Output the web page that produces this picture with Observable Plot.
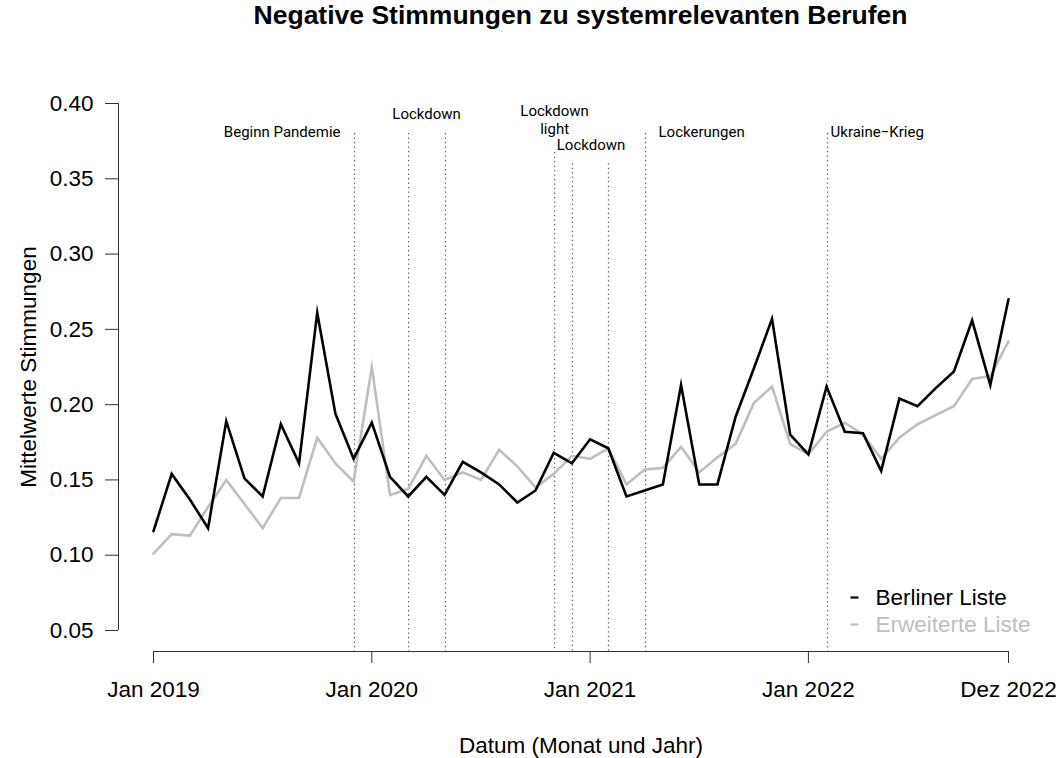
<!DOCTYPE html>
<html>
<head>
<meta charset="utf-8">
<script src="https://cdn.jsdelivr.net/npm/d3@7"></script>
<script src="https://cdn.jsdelivr.net/npm/@observablehq/plot@0.6"></script>
<style>
  body { margin: 0; background: #fff; }
  #title { height: 55px; line-height: 54px; box-sizing: border-box; padding-left: 153px; padding-right: 53px;
           text-align: center; font: bold 26.5px "Liberation Sans", Arial, sans-serif; color: #000; white-space: nowrap; }
  svg { display: block; }
</style>
</head>
<body>
<div id="title">Negative Stimmungen zu systemrelevanten Berufen</div>
<div id="chart"></div>
<script>
// Monthly means, Jan 2019 .. Dez 2022 (month index 0..47)
const berlinerListe = [
  0.116, 0.154, 0.137, 0.118, 0.189, 0.151, 0.139, 0.187, 0.161, 0.261, 0.194, 0.164,
  0.188, 0.152, 0.139, 0.152, 0.140, 0.162, 0.155, 0.147, 0.135, 0.143, 0.168, 0.161,
  0.177, 0.171, 0.139, 0.143, 0.147, 0.213, 0.147, 0.147, 0.192, 0.224, 0.257, 0.180,
  0.167, 0.212, 0.182, 0.181, 0.156, 0.204, 0.199, 0.211, 0.222, 0.256, 0.213, 0.270
];
const erweiterteListe = [
  0.101, 0.114, 0.113, 0.132, 0.150, 0.134, 0.118, 0.138, 0.138, 0.178, 0.161, 0.149,
  0.225, 0.140, 0.144, 0.166, 0.150, 0.155, 0.150, 0.170, 0.159, 0.145, 0.154, 0.166,
  0.164, 0.171, 0.147, 0.157, 0.158, 0.172, 0.155, 0.165, 0.174, 0.201, 0.212, 0.174,
  0.167, 0.182, 0.188, 0.180, 0.164, 0.178, 0.187, 0.193, 0.199, 0.217, 0.219, 0.242
];
const seriesNames = ["Berliner Liste", "Erweiterte Liste"];
const seriesColors = ["#000000", "#bebebe"];

const xTicks = [0, 12, 24, 36, 47];
const xTickLabels = ["Jan 2019", "Jan 2020", "Jan 2021", "Jan 2022", "Dez 2022"];
const yTicks = [0.05, 0.10, 0.15, 0.20, 0.25, 0.30, 0.35, 0.40];

// Event lines (month index) and the value where each dotted line starts
const eventMonths = [11.05, 14.02, 16.05, 22.05, 23.03, 25.01, 27.05, 37.05];
const eventTops   = [0.380, 0.380, 0.380, 0.3675, 0.360, 0.360, 0.380, 0.380];
const eventBottom = 0.036;

// Event labels
const eventLabels  = ["Beginn Pandemie", "Lockdown", "Lockdown\nlight", "Lockdown", "Lockerungen", "Ukraine\u2212Krieg"];
const eventLabelX  = [10.28, 15.01, 22.05, 24.05, 27.76, 37.22];
const eventLabelY  = [0.3814, 0.3934, 0.3894, 0.3728, 0.3814, 0.3814];
const eventAnchors = ["end", "middle", "middle", "middle", "start", "start"];

const rows = [];
berlinerListe.forEach((v, i) => rows.push({m: i, v, s: seriesNames[0]}));
erweiterteListe.forEach((v, i) => rows.push({m: i, v, s: seriesNames[1]}));
const events = eventMonths.map((m, i) => ({m, top: eventTops[i], bottom: eventBottom}));
const labels = eventLabels.map((t, i) => ({t, x: eventLabelX[i], y: eventLabelY[i], a: eventAnchors[i]}));

const dashSymbol = { draw(ctx) { ctx.moveTo(-4, 0); ctx.lineTo(4, 0); } };

const labelMarks = ["start", "middle", "end"].map(a =>
  Plot.text(labels.filter(d => d.a === a), { x: "x", y: "y", text: "t", textAnchor: a, fontSize: 15, lineHeight: 1.2,
    fontFamily: "Roboto, 'Liberation Sans', sans-serif", fill: "#000" })
);

const FS = 22.5;

const chart = Plot.plot({
  width: 1061,
  height: 703,
  marginLeft: 153,
  marginRight: 53,
  marginTop: 48,
  marginBottom: 128,
  style: { fontFamily: "'Liberation Sans', Arial, sans-serif", fontSize: FS + "px", color: "#000", background: "#fff", overflow: "visible" },
  x: { type: "linear", domain: [0, 47], axis: null },
  y: { type: "linear", domain: [0.05, 0.40], axis: null },
  color: { domain: seriesNames, range: seriesColors },
  marks: [
    // event lines
    Plot.ruleX(events, { x: "m", y1: "top", y2: "bottom", stroke: "#555", strokeWidth: 1.2, strokeDasharray: "1.2,3.3" }),
    // data lines
    Plot.line(rows.filter(d => d.s === seriesNames[1]), { x: "m", y: "v", stroke: seriesColors[1], strokeWidth: 2.6, strokeLinejoin: "miter", strokeMiterlimit: 10 }),
    Plot.line(rows.filter(d => d.s === seriesNames[0]), { x: "m", y: "v", stroke: seriesColors[0], strokeWidth: 2.6, strokeLinejoin: "miter", strokeMiterlimit: 10 }),
    // y axis
    Plot.ruleX([0], { y1: yTicks[0], y2: yTicks[yTicks.length - 1], dx: -35, stroke: "#333", strokeWidth: 1 }),
    Plot.axisY(yTicks, { anchor: "left", tickSize: 13, tickPadding: 12, dx: -35, fontSize: FS, stroke: "#333",
      tickFormat: d => d.toFixed(2) }),
    // x axis
    Plot.ruleY([yTicks[0]], { x1: xTicks[0], x2: xTicks[xTicks.length - 1], dy: 21, stroke: "#333", strokeWidth: 1 }),
    Plot.axisX(xTicks, { anchor: "bottom", tickSize: 12, tickPadding: 18, dy: 21, fontSize: FS, stroke: "#333",
      tickFormat: (d) => xTickLabels[xTicks.indexOf(d)] }),
    // axis titles
    Plot.text(["Datum (Monat und Jahr)"], { frameAnchor: "bottom", dy: 115, textAnchor: "middle", lineAnchor: "middle", fontSize: FS, fill: "#000" }),
    Plot.text(["Mittelwerte Stimmungen"], { frameAnchor: "left", dx: -125, rotate: -90, textAnchor: "middle", lineAnchor: "middle", fontSize: FS, fill: "#000" }),
    // event labels
    ...labelMarks,
    // legend
    Plot.dot([seriesNames[0]], { frameAnchor: "bottom-right", dx: -154, dy: -33, symbol: dashSymbol, r: 4, fill: "none", stroke: seriesColors[0], strokeWidth: 2.2 }),
    Plot.dot([seriesNames[1]], { frameAnchor: "bottom-right", dx: -154, dy: -6, symbol: dashSymbol, r: 4, fill: "none", stroke: seriesColors[1], strokeWidth: 2.2 }),
    Plot.text([seriesNames[0]], { frameAnchor: "bottom-right", dx: -133, dy: -33, textAnchor: "start", lineAnchor: "middle", fontSize: FS, fill: seriesColors[0] }),
    Plot.text([seriesNames[1]], { frameAnchor: "bottom-right", dx: -133, dy: -6, textAnchor: "start", lineAnchor: "middle", fontSize: FS, fill: seriesColors[1] })
  ]
});
document.getElementById("chart").appendChild(chart);
</script>
</body>
</html>
